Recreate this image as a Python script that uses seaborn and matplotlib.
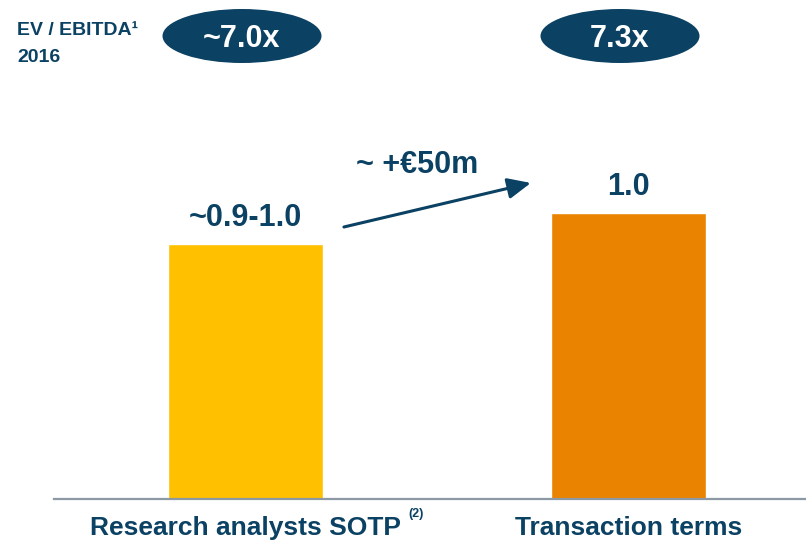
import matplotlib
matplotlib.use("Agg")
import matplotlib.pyplot as plt
from matplotlib.patches import Ellipse
import seaborn as sns
import pandas as pd

# Chart data
categories = ["Research analysts SOTP", "Transaction terms"]
values = [0.89, 1.0]
bar_labels = ["~0.9-1.0", "1.0"]
multiples = ["~7.0x", "7.3x"]
bar_colors = ["#FFC000", "#E98300"]
footnotes = ["(2)", ""]
delta_label = "~ +€50m"

navy = "#0B4163"

sns.set_theme(style="white")
plt.rcParams["font.family"] = ["Liberation Sans", "DejaVu Sans"]
plt.rcParams["font.weight"] = "bold"

df = pd.DataFrame({"category": categories, "value": values})

fig = plt.figure(figsize=(8.06, 5.42), dpi=100)
ax = fig.add_axes([54 / 806, 43 / 542, 752 / 806, 399 / 542])

sns.barplot(data=df, x="category", y="value", hue="category",
            palette=bar_colors, width=0.405, legend=False, ax=ax,
            saturation=1)

ax.set_xlim(-0.5, 1.4635)
ax.set_ylim(0, 1.395)
ax.set_xlabel("")
ax.set_ylabel("")
ax.set_yticks([])
for s in ["left", "right", "top"]:
    ax.spines[s].set_visible(False)
ax.spines["bottom"].set_color("#8C98A4")
ax.spines["bottom"].set_linewidth(1.6)
ax.tick_params(axis="x", length=0, pad=12, labelsize=19, labelcolor=navy)
for t in ax.get_xticklabels():
    t.set_fontweight("bold")

# value labels above bars
for cont, lab in zip(ax.containers, bar_labels):
    ax.bar_label(cont, labels=[lab], padding=8, fontsize=22,
                 fontweight="bold", color=navy)

# footnote marks next to category labels
fig.canvas.draw()
for t, fn in zip(ax.get_xticklabels(), footnotes):
    if fn:
        ax.annotate(fn, xy=(1, 1), xycoords=t, xytext=(5, 1),
                    textcoords="offset points", ha="left", va="center",
                    fontsize=9, fontweight="bold", color=navy)

# arrow + delta
ax.annotate("", xy=(0.745, 1.105), xytext=(0.257, 0.951),
            arrowprops=dict(arrowstyle="-|>,head_length=1.0,head_width=0.45",
                            color=navy, lw=2.2, mutation_scale=14,
                            shrinkA=0, shrinkB=0))
ax.text(0.449, 1.14, delta_label, ha="center", va="baseline",
        fontsize=22, fontweight="bold", color=navy)

# header
fig.text(17 / 806, 1 - 35 / 542, "EV / EBITDA¹", ha="left", va="baseline",
         fontsize=14, fontweight="bold", color=navy)
fig.text(17 / 806, 1 - 62 / 542, "2016", ha="left", va="baseline",
         fontsize=14, fontweight="bold", color=navy)

# multiple ellipses
for cx, m in zip([242, 620], multiples):
    fig.patches.append(Ellipse((cx / 806, 1 - 36 / 542), 159 / 806, 54 / 542,
                               transform=fig.transFigure, facecolor=navy,
                               edgecolor="none"))
    fig.text(cx / 806, 1 - 47 / 542, m, ha="center", va="baseline",
             fontsize=22, fontweight="bold", color="white")

plt.savefig("out.png", dpi=100)
